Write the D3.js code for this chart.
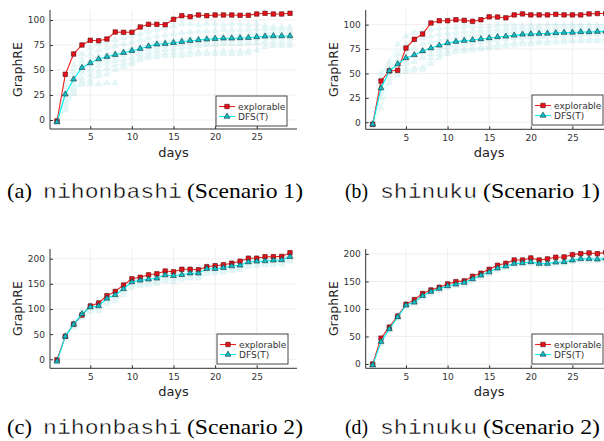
<!DOCTYPE html>
<html>
<head>
<meta charset="utf-8">
<script src="https://cdn.jsdelivr.net/npm/d3@7"></script>
<style>
  body { margin: 0; background: #fff; }
  svg { display: block; }
</style>
</head>
<body>
<svg id="fig" width="604" height="441"></svg>
<script>
// ---- data ----
const days = [1, 2, 3, 4, 5, 6, 7, 8, 9, 10, 11, 12, 13, 14, 15, 16, 17, 18, 19, 20, 21, 22, 23, 24, 25, 26, 27, 28, 29];
const xTicks = [5, 10, 15, 20, 25];
const yTicksS1 = [0, 25, 50, 75, 100];
const yTicksS2 = [0, 50, 100, 150, 200];
const seriesNames = ['explorable', 'DFS(T)'];

// (a) nihonbashi, scenario 1
const nihon1Explorable = [-1, 45.7, 66, 75, 79.7, 79.3, 81, 88, 87.7, 87.7, 93, 95.7, 95.7, 95.3, 100.7, 104.3, 103.3, 105, 104.3, 105, 105, 105, 104.7, 104.7, 106, 106.7, 106, 106, 106.7];
const nihon1Dfs = [-2, 25.7, 40.7, 52.3, 57, 61, 63.3, 65.3, 67.3, 69.3, 71.3, 73.7, 75.7, 76.3, 77.3, 78.3, 79.3, 80, 80.7, 81.3, 81.7, 81.7, 82, 82.3, 83, 83.7, 84, 84, 84];
const nihon1Runs = [
  [0, 35, 55, 66, 72, 76, 78, 80, 82, 84, 86, 88, 90, 92, 94, 96, 96, 95, 96, 96, 95, 96, 96, 95, 96, 94, 93, 93, 93],
  [0, 30, 48, 60, 66, 70, 72, 74, 76, 78, 80, 82, 84, 85, 86, 87, 88, 88, 89, 89, 90, 90, 90, 90, 91, 91, 91, 91, 91],
  [0, 25, 42, 55, 60, 64, 66, 68, 70, 72, 74, 76, 78, 79, 80, 81, 82, 82, 83, 84, 84, 85, 85, 85, 86, 87, 88, 88, 88],
  [-2, 20, 36, 48, 55, 58, 61, 63, 65, 67, 69, 71, 73, 74, 75, 76, 77, 78, 78, 79, 79, 80, 80, 80, 81, 82, 82, 82, 82],
  [-2, 15, 30, 42, 50, 54, 57, 59, 60, 62, 65, 67, 69, 70, 71, 72, 73, 74, 75, 75, 76, 76, 76, 77, 77, 78, 78, 78, 78],
  [-3, 10, 26, 38, 45, 48, 52, 55, 56, 58, 62, 64, 65, 66, 67, 67, 68, 68, 68, 68, 69, 69, 69, 69, 70, 73, 74, 74, 74],
  [-2, 12, 28, 36, 40, 44, 46, 50, 53, 56, 60, 62, 63, 64, 64, 64, 65, 66, 66, 66, 66, 66, 66, 67],
  [-2, 22, 32, 36, 36, 36, 37, 37]
];

// (b) shinuku, scenario 1
const shin1Explorable = [-2, 42.3, 52.6, 53.2, 76, 85, 90.4, 101.7, 104, 104, 105, 104.4, 103.4, 105, 108, 107.8, 107, 110, 111, 110, 110, 110, 110.6, 110, 110, 110, 111, 111.4, 111.4];
const shin1Dfs = [-2, 35, 52.6, 59.7, 65.9, 69, 73, 76, 78.8, 81.2, 82.6, 83.6, 84.3, 85.3, 86.3, 87.4, 88, 89, 90, 90.4, 90.8, 91, 91.5, 91.8, 92, 92.5, 92.5, 92.8, 93.2];
const shin1Runs = [
  [-3, 50, 62, 80, 88, 92, 94, 95, 96, 97, 97, 98, 98, 98, 98, 99, 99, 99, 99, 99, 99, 100, 100, 100, 100, 100, 100, 100, 100],
  [-2, 45, 58, 70, 80, 84, 86, 88, 90, 91, 92, 93, 93, 94, 94, 95, 95, 96, 96, 96, 96, 96, 97, 97, 97, 97, 97, 97, 97],
  [-2, 40, 55, 64, 72, 76, 80, 82, 84, 86, 87, 88, 89, 90, 91, 92, 92, 93, 93, 94, 94, 94, 94, 94, 95, 95, 95, 95, 95],
  [-2, 35, 52, 58, 64, 68, 72, 75, 78, 80, 82, 83, 84, 85, 86, 87, 88, 89, 90, 90, 91, 91, 91, 92, 92, 92, 92, 92, 92],
  [-3, 30, 48, 56, 60, 62, 66, 70, 74, 77, 79, 80, 81, 82, 83, 84, 85, 86, 87, 87, 88, 88, 88, 89, 89, 89, 90, 90, 90],
  [-3, 25, 45, 52, 54, 55, 56, 66, 70, 72, 74, 75, 76, 77, 78, 79, 80, 81, 82, 82, 83, 83, 83, 84, 84, 84, 85, 85, 85],
  [-2, 15, 40, 48, 52, 53, 54, 60, 66, 70, 72, 73, 74, 75, 76, 77, 78, 79, 80, 80, 81, 81, 82, 82, 83, 83, 83, 83, 83]
];

// (c) nihonbashi, scenario 2
const nihon2Explorable = [-1, 45.7, 70, 88, 106, 112, 126.5, 135, 147.7, 160, 163, 168, 170, 175.5, 174, 179, 179, 178, 184, 186, 188, 191, 195, 201, 201, 204, 204, 204.6, 212];
const nihon2Dfs = [-4, 45.7, 69.5, 90, 104, 106, 121, 128, 140, 153.6, 157, 159, 161, 167.5, 166, 168, 171, 171, 180, 180, 182, 185.4, 186.8, 193.4, 194.7, 195.4, 196.7, 197.4, 204];
const nihon2Runs = [
  [-2, 47, 74, 96, 108, 112, 126, 133, 146, 158, 162, 164, 166, 172, 171, 174, 177, 177, 186, 186, 188, 190, 192, 198, 199, 200, 201, 202, 208],
  [-3, 46, 72, 93, 106, 109, 124, 131, 143, 156, 160, 162, 164, 170, 169, 171, 174, 174, 183, 183, 185, 188, 189, 196, 197, 198, 199, 200, 206],
  [-5, 45, 67, 87, 101, 103, 118, 125, 137, 150, 154, 156, 158, 164, 162, 165, 168, 168, 177, 177, 179, 182, 184, 190, 192, 192, 194, 195, 201],
  [-6, 44, 65, 84, 98, 100, 114, 120, 133, 146, 150, 152, 154, 160, 158, 161, 164, 164, 173, 174, 176, 179, 181, 187, 189, 190, 191, 192, 198],
  [-7, 43, 63, 82, 95, 96, 110, 116, 128, 142, 146, 148, 150, 156, 154, 158, 161, 161, 170, 171, 173, 176, 178, 184, 186, 187, 188, 189, 195]
];

// (d) shinuku, scenario 2
const shin2Explorable = [0, 47, 67, 87, 108.5, 117, 128, 134.5, 139.4, 145.5, 149.7, 151, 159.4, 165, 172, 179.4, 183, 189, 189, 192.7, 189, 191, 194, 194.5, 198.8, 200.6, 201.8, 200.6, 203];
const shin2Dfs = [-2, 40.6, 63.6, 85.5, 106.7, 112, 124, 131.5, 137, 141.8, 144.8, 147.9, 154.5, 161, 167, 174, 177.6, 182.4, 183.6, 185.5, 182.4, 182.4, 184.8, 185.5, 188.5, 191, 191, 190.3, 192];
const shin2Runs = [
  [-1, 44, 67, 89, 110, 116, 128, 135, 140, 145, 148, 151, 158, 164, 170, 177, 181, 186, 187, 189, 186, 186, 188, 189, 192, 194, 194, 194, 196],
  [-2, 42, 65, 87, 108, 114, 126, 133, 139, 143, 146, 150, 156, 163, 169, 176, 179, 184, 185, 187, 184, 184, 186, 187, 190, 193, 193, 192, 194],
  [-3, 38, 62, 84, 105, 110, 122, 129, 135, 140, 143, 146, 153, 159, 165, 172, 176, 181, 182, 184, 181, 181, 183, 184, 187, 189, 189, 189, 191],
  [-3, 36, 60, 82, 103, 108, 120, 127, 133, 138, 141, 144, 151, 157, 163, 170, 174, 179, 180, 182, 179, 179, 181, 182, 185, 187, 187, 187, 189]
];

// ---- layout ----
const panels = [
  {explorable: nihon1Explorable, dfs: nihon1Dfs, runs: nihon1Runs, yTicks: yTicksS1,
   x0: 50, x1: 297, yTop: 10, yBot: 129, yDom: [-9, 110], legend: {x: 216, y: 96},
   caption: {y: 198, parts: [['(a)', 'serif', 7, 25], ['nihonbashi', 'mono', 43, 139], ['(Scenario 1)', 'serif', 187, 116]]}},
  {explorable: shin1Explorable, dfs: shin1Dfs, runs: shin1Runs, yTicks: yTicksS1,
   x0: 365.7, x1: 612.7, yTop: 10, yBot: 129.3, yDom: [-7.2, 115], legend: {x: 532, y: 95},
   caption: {y: 198, parts: [['(b)', 'serif', 345, 23], ['shinuku', 'mono', 380, 97], ['(Scenario 1)', 'serif', 483, 117]]}},
  {explorable: nihon2Explorable, dfs: nihon2Dfs, runs: nihon2Runs, yTicks: yTicksS2,
   x0: 50, x1: 297, yTop: 249, yBot: 368.3, yDom: [-17.9, 219.3], legend: {x: 217, y: 334},
   caption: {y: 434, parts: [['(c)', 'serif', 7, 25], ['nihonbashi', 'mono', 43, 139], ['(Scenario 2)', 'serif', 187, 116]]}},
  {explorable: shin2Explorable, dfs: shin2Dfs, runs: shin2Runs, yTicks: yTicksS2,
   x0: 365.7, x1: 612.7, yTop: 249, yBot: 368.3, yDom: [-7.8, 209], legend: {x: 532, y: 334},
   caption: {y: 434, parts: [['(d)', 'serif', 345, 23], ['shinuku', 'mono', 380, 97], ['(Scenario 2)', 'serif', 483, 117]]}}
];

const RED = '#f0201c', CYAN = '#00f0f0', AXIS = '#333';
const SANS = 'DejaVu Sans, sans-serif';
const fonts = {serif: 'Liberation Serif, Times New Roman, serif', mono: 'Liberation Mono, Courier New, monospace'};
const square = d3.symbol().type(d3.symbolSquare).size(20);
const triangle = d3.symbol().type(d3.symbolTriangle).size(15);

const svg = d3.select('#fig');

panels.forEach(p => {
  const x = d3.scaleLinear().domain([0.16, 29.84]).range([p.x0, p.x1]);
  const y = d3.scaleLinear().domain(p.yDom).range([p.yBot, p.yTop]);
  const g = svg.append('g');

  // grid
  g.append('g').selectAll('line').data(xTicks).join('line')
    .attr('x1', d => x(d)).attr('x2', d => x(d))
    .attr('y1', p.yTop).attr('y2', p.yBot)
    .attr('stroke', '#ebebeb').attr('stroke-width', 0.8);
  g.append('g').selectAll('line').data(p.yTicks).join('line')
    .attr('x1', p.x0).attr('x2', p.x1)
    .attr('y1', d => y(d)).attr('y2', d => y(d))
    .attr('stroke', '#ebebeb').attr('stroke-width', 0.8);

  // axes
  const xAxis = g.append('g').attr('transform', `translate(0,${p.yBot})`)
    .call(d3.axisBottom(x).tickValues(xTicks).tickSize(-3).tickPadding(5));
  const yAxis = g.append('g').attr('transform', `translate(${p.x0},0)`)
    .call(d3.axisLeft(y).tickValues(p.yTicks).tickSize(-3).tickPadding(5));
  [xAxis, yAxis].forEach(a => {
    a.select('.domain').attr('stroke', AXIS);
    a.selectAll('.tick line').attr('stroke', AXIS);
    a.selectAll('.tick text').attr('fill', AXIS).attr('font-family', SANS).attr('font-size', 9);
  });
  xAxis.select('.domain').attr('d', `M${p.x0},0H${p.x1}`);
  yAxis.select('.domain').attr('d', `M0,${p.yBot}V${p.yTop}`);

  // axis titles
  g.append('text').attr('x', (p.x0 + p.x1) / 2).attr('y', p.yBot + 28)
    .attr('text-anchor', 'middle').attr('font-family', SANS).attr('font-size', 13)
    .attr('fill', '#222').text('days');
  g.append('text')
    .attr('transform', `translate(${p.x0 - 28},${(p.yTop + p.yBot) / 2}) rotate(-90)`)
    .attr('text-anchor', 'middle').attr('font-family', SANS).attr('font-size', 12.5)
    .attr('fill', '#222').text('GraphRE');

  const line = d3.line().x((d, i) => x(days[i])).y(d => y(d));

  // faint individual runs
  const runs = g.append('g').attr('opacity', 0.13);
  p.runs.forEach(r => {
    runs.append('path').attr('d', line(r)).attr('fill', 'none')
      .attr('stroke', CYAN).attr('stroke-width', 1);
    runs.selectAll(null).data(r).join('path')
      .attr('transform', (d, i) => `translate(${x(days[i])},${y(d)})`)
      .attr('d', triangle).attr('fill', '#3cc8cc').attr('stroke', '#208088').attr('stroke-width', 0.6);
  });

  // explorable
  g.append('path').attr('d', line(p.explorable)).attr('fill', 'none')
    .attr('stroke', RED).attr('stroke-width', 1.1);
  g.append('g').selectAll('path').data(p.explorable).join('path')
    .attr('transform', (d, i) => `translate(${x(days[i])},${y(d)})`)
    .attr('d', square).attr('fill', '#e8101a').attr('stroke', '#551010').attr('stroke-width', 0.6);

  // DFS(T) mean
  g.append('path').attr('d', line(p.dfs)).attr('fill', 'none')
    .attr('stroke', CYAN).attr('stroke-width', 1.1);
  g.append('g').selectAll('path').data(p.dfs).join('path')
    .attr('transform', (d, i) => `translate(${x(days[i])},${y(d)})`)
    .attr('d', triangle).attr('fill', '#10c0c8').attr('stroke', '#103038').attr('stroke-width', 0.6);

  // legend
  const lg = g.append('g').attr('transform', `translate(${p.legend.x},${p.legend.y})`);
  lg.append('rect').attr('width', 71).attr('height', 30)
    .attr('fill', '#fff').attr('stroke', AXIS).attr('stroke-width', 0.9);
  const entries = [
    {name: seriesNames[0], color: RED, sym: square, fill: '#e8101a', edge: '#551010'},
    {name: seriesNames[1], color: CYAN, sym: triangle, fill: '#10c0c8', edge: '#103038'}
  ];
  const row = lg.selectAll('g').data(entries).join('g')
    .attr('transform', (d, i) => `translate(0,${10.5 + i * 10})`);
  row.append('line').attr('x1', 3).attr('x2', 19).attr('stroke', d => d.color).attr('stroke-width', 1.1);
  row.append('path').attr('transform', 'translate(11,0)').attr('d', d => d.sym())
    .attr('fill', d => d.fill).attr('stroke', d => d.edge).attr('stroke-width', 0.6);
  row.append('text').attr('x', 22).attr('dy', '0.35em')
    .attr('font-family', SANS).attr('font-size', 9).attr('fill', AXIS).text(d => d.name);

  // caption
  svg.append('g').selectAll('text').data(p.caption.parts).join('text')
    .attr('x', d => d[2]).attr('y', p.caption.y)
    .attr('font-family', d => fonts[d[1]]).attr('font-size', d => d[1] === 'mono' ? 21 : 22)
    .attr('fill', '#000')
    .attr('stroke', d => d[1] === 'mono' ? '#fff' : 'none').attr('stroke-width', 0.4)
    .attr('textLength', d => d[3]).attr('lengthAdjust', 'spacingAndGlyphs')
    .text(d => d[0]);
});
</script>
</body>
</html>
